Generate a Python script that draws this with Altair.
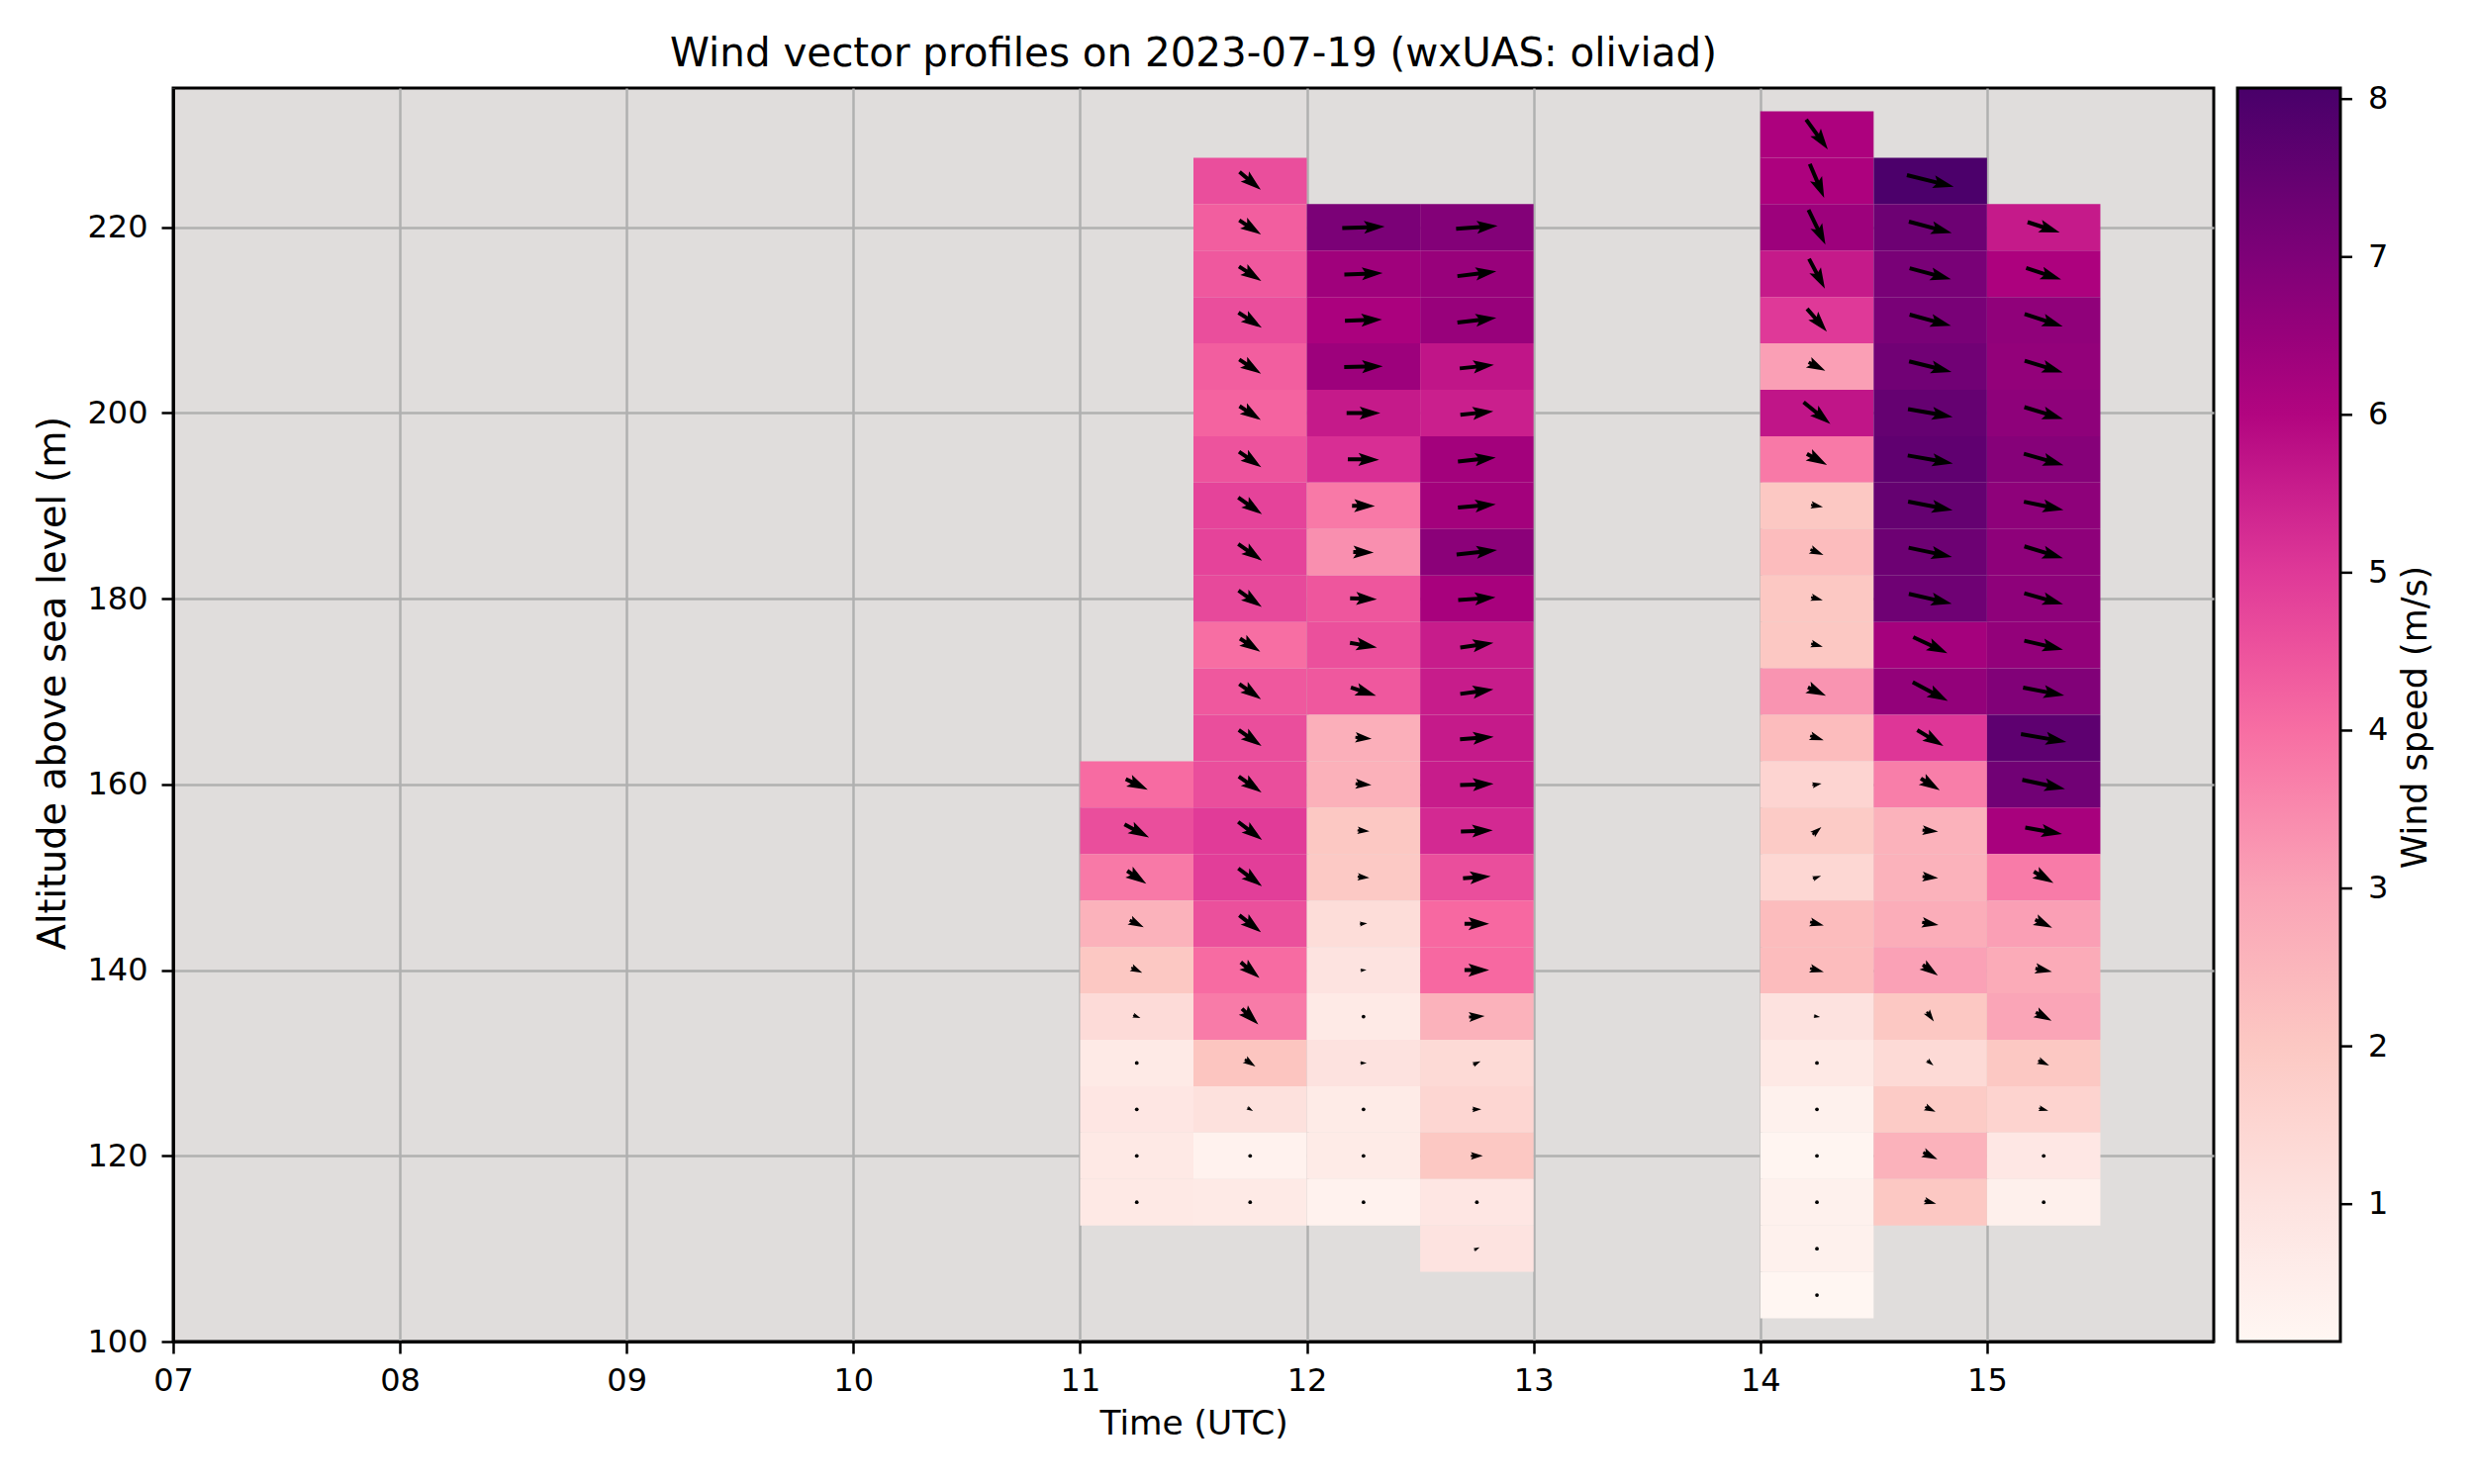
import altair as alt
import pandas as pd

# ---- data ----------------------------------------------------------------
# start hour (UTC) of each 30-min profile and altitude (m) of its top bin centre
profile_start = [11.0, 11.5, 12.0, 12.5, 14.0, 14.5, 15.0]
profile_top = [160, 225, 220, 220, 230, 225, 220]
bin_step = 5          # altitude bin (m)
profile_len = 0.5     # hours

# wind speed (m/s), listed from the top bin downwards
speed_1100 = [4.05, 4.6, 3.8, 2.6, 2.0, 1.3, 0.7, 0.85, 0.75, 0.75]
speed_1130 = [4.6, 4.3, 4.4, 4.6, 4.3, 4.2, 4.5, 4.8, 4.8, 4.7, 4.0, 4.4, 4.6, 4.6,
              4.95, 4.9, 4.55, 4.05, 3.75, 2.1, 1.1, 0.35, 0.7]
speed_1200 = [7.05, 6.35, 6.15, 6.4, 5.6, 5.2, 3.8, 3.4, 4.45, 4.55, 4.4, 2.7, 2.65,
              2.0, 1.95, 1.25, 1.0, 0.7, 1.05, 0.65, 0.65, 0.35]
speed_1230 = [6.9, 6.5, 6.5, 5.7, 5.5, 6.3, 6.3, 6.75, 6.2, 5.55, 5.55, 5.6, 5.55,
              5.3, 4.6, 4.1, 4.1, 2.6, 1.35, 1.5, 2.0, 0.85, 1.0]
speed_1400 = [6.1, 6.1, 6.4, 5.6, 5.0, 3.1, 5.7, 3.8, 2.0, 2.35, 2.0, 2.0, 3.3, 2.35,
              1.55, 1.9, 1.45, 2.35, 2.35, 1.05, 0.75, 0.4, 0.2, 0.4, 0.4, 0.17]
speed_1430 = [8.0, 7.35, 7.1, 7.1, 7.25, 7.5, 7.6, 7.5, 7.35, 7.3, 6.25, 6.6, 5.05,
              3.7, 2.6, 2.6, 2.75, 3.05, 2.0, 1.35, 1.9, 2.6, 2.0]
speed_1500 = [5.6, 6.1, 6.65, 6.6, 6.7, 6.85, 6.7, 6.7, 6.7, 6.6, 6.95, 7.65, 7.25,
              6.2, 3.75, 3.1, 2.8, 2.95, 2.0, 1.6, 0.8, 0.45]

# arrow heading on screen (degrees clockwise from pointing right), top bin downwards
heading_1100 = [26, 28, 34, 27, 25, 20, 0, 0, 0, 0]
heading_1130 = [40, 33, 33, 33, 33, 33, 35, 35, 35, 35, 33, 35, 35, 35, 37, 37, 38,
                40, 44, 34, 30, 0, 0]
heading_1200 = [-2, -2, -2, -1, 0, 1, 1, 2, 2, 10, 18, 5, 5, 5, 5, -5, -5, 0, 0, 0,
                0, 0]
heading_1230 = [-4, -7, -7, -6, -6, -6, -5, -6, -4, -8, -8, -4, -2, -2, -4, 0, 0, -4,
                -25, 0, 0, 0, -25]
heading_1400 = [54, 67, 64, 62, 49, 27, 39, 29, 10, 23, 15, 15, 25, 18, -10, -40,
                -20, 15, 15, 10, 0, 0, 0, 0, 0, 0]
heading_1430 = [14, 15, 15, 15, 14, 10, 10, 11, 12, 13, 25, 28, 31, 32, 5, 5, 10, 35,
                54, 40, 25, 25, 15]
heading_1500 = [18, 18, 18, 17, 17, 16, 12, 17, 16, 13, 11, 10, 12, 10, 30, 25, 12,
                28, 25, 15, 0, 0]

speeds = [speed_1100, speed_1130, speed_1200, speed_1230, speed_1400, speed_1430,
          speed_1500]
headings = [heading_1100, heading_1130, heading_1200, heading_1230, heading_1400,
            heading_1430, heading_1500]

x_ticks = [7, 8, 9, 10, 11, 12, 13, 14, 15]
y_ticks = [100, 120, 140, 160, 180, 200, 220]
cbar_ticks = [1, 2, 3, 4, 5, 6, 7, 8]
cbar_title = "Wind speed (m/s)"
cbar_min, cbar_max = 0.13, 8.07
# matplotlib "RdPu" colour stops
rdpu = ["#fff7f3", "#fde0dd", "#fcc5c0", "#fa9fb5", "#f768a1", "#dd3497",
        "#ae017e", "#7a0177", "#49006a"]

rows = []
for start, top, spd, hdg in zip(profile_start, profile_top, speeds, headings):
    for i, (s, h) in enumerate(zip(spd, hdg)):
        alt_c = top - i * bin_step
        rows.append(dict(t0=start, t1=start + profile_len, tc=start + profile_len / 2,
                         a0=alt_c - bin_step / 2, a1=alt_c + bin_step / 2, alt=alt_c,
                         speed=s, heading=h % 360))
df = pd.DataFrame(rows)

# ---- styling --------------------------------------------------------------
FONT = "DejaVu Sans"
W, H = 2062, 1267
CBAR_OFFSET, CBAR_WIDTH = 24, 104
PX_PER_MS = 6.1      # quiver arrow length per m/s (px)
HEAD_LEN = 21        # full-size arrow head length (px)

x_scale = alt.Scale(domain=[7, 16], nice=False, zero=False)
y_scale = alt.Scale(domain=[100, 235], nice=False, zero=False)

axis_common = dict(grid=True, gridColor="#b0b0b0", gridWidth=2.5, tickSize=12,
                   tickWidth=2.5, tickColor="black", domainColor="black",
                   domainWidth=3, labelFont=FONT, labelFontSize=32,
                   labelColor="black", titleFont=FONT, titleFontWeight="normal",
                   titleColor="black", labelFlush=False)

x_axis = alt.Axis(values=x_ticks, title="Time (UTC)", titleFontSize=34.4,
                  labelExpr="(datum.value < 10 ? '0' : '') + datum.value",
                  labelPadding=12, titlePadding=11, **axis_common)
y_axis = alt.Axis(values=y_ticks, title="Altitude above sea level (m)",
                  titleFontSize=38.2, labelPadding=14, titlePadding=14,
                  titleY=601, **axis_common)

stops = [cbar_min + k * (cbar_max - cbar_min) / (len(rdpu) - 1)
         for k in range(len(rdpu))]
color_scale = alt.Scale(domain=stops, range=rdpu, interpolate="rgb")

base = alt.Chart(df)

cells = base.mark_rect(strokeWidth=0).encode(
    x=alt.X("t0:Q", scale=x_scale, axis=x_axis),
    x2="t1:Q",
    y=alt.Y("a0:Q", scale=y_scale, axis=y_axis),
    y2="a1:Q",
    color=alt.Color("speed:Q", scale=color_scale, legend=alt.Legend(
        title=None, orient="right", offset=CBAR_OFFSET, direction="vertical",
        gradientLength=H, gradientThickness=CBAR_WIDTH, gradientStrokeColor="black",
        gradientStrokeWidth=3, values=cbar_ticks, format="d", labelFont=FONT,
        labelFontSize=32, labelColor="black", labelOffset=28, labelOverlap=False,
        padding=0)),
)


def r2(e):
    return f"round(({e}) * 100) / 100"


# quiver arrow outline (pointing right, centred on the bin), built from speed:
# length proportional to speed, head of fixed size (shrunk for short arrows)
arrows = base.transform_filter("datum.speed >= 0.95").transform_calculate(
    L=f"{PX_PER_MS} * datum.speed",
).transform_calculate(
    hs=f"min(datum.L, {HEAD_LEN})",
).transform_calculate(
    k=f"datum.hs / {HEAD_LEN}",
    x0="-datum.L / 2",
    xt="datum.L / 2",
    xb="datum.L / 2 - datum.hs",
    xn="datum.L / 2 - 0.86 * datum.hs",
).transform_calculate(
    sw="2.0 * datum.k",
    hw="6.6 * datum.k",
).transform_calculate(
    path=("'M' + " + r2("datum.x0") + " + ',' + " + r2("-datum.sw")
          + " + 'L' + " + r2("datum.xn") + " + ',' + " + r2("-datum.sw")
          + " + 'L' + " + r2("datum.xb") + " + ',' + " + r2("-datum.hw")
          + " + 'L' + " + r2("datum.xt") + " + ',0'"
          + " + 'L' + " + r2("datum.xb") + " + ',' + " + r2("datum.hw")
          + " + 'L' + " + r2("datum.xn") + " + ',' + " + r2("datum.sw")
          + " + 'L' + " + r2("datum.x0") + " + ',' + " + r2("datum.sw")
          + " + 'Z'"),
).mark_point(
    filled=True, color="black", opacity=1, strokeWidth=0, size=4
).encode(
    x=alt.X("tc:Q", scale=x_scale),
    y=alt.Y("alt:Q", scale=y_scale, axis=None),
    shape=alt.Shape("path:N", scale=None, legend=None),
    angle=alt.Angle("heading:Q", scale=None),
)

dots = base.transform_filter("datum.speed < 0.95").mark_circle(
    size=14, color="black", opacity=1
).encode(
    x=alt.X("tc:Q", scale=x_scale),
    y=alt.Y("alt:Q", scale=y_scale, axis=None),
)

# colour-bar tick marks on the right edge of the gradient
cbar_tick_marks = alt.Chart(pd.DataFrame({"v": cbar_ticks})).mark_rule(
    color="black", strokeWidth=2.5
).encode(
    x=alt.value(W + CBAR_OFFSET + CBAR_WIDTH),
    x2=alt.value(W + CBAR_OFFSET + CBAR_WIDTH + 12),
    y=alt.Y("v:Q", scale=alt.Scale(domain=[cbar_min, cbar_max], nice=False,
                                   zero=False), axis=None),
)

cbar_label = alt.Chart(pd.DataFrame({"t": [cbar_title]})).mark_text(
    font=FONT, fontSize=34.9, color="black", angle=270, align="center",
    baseline="middle"
).encode(x=alt.value(W + 205), y=alt.value(636), text="t:N")

chart = alt.layer(cells, arrows, dots, cbar_tick_marks, cbar_label).resolve_scale(
    y="independent"
).properties(
    width=W, height=H, background="white",
    title=alt.TitleParams("Wind vector profiles on 2023-07-19 (wxUAS: oliviad)",
                          font=FONT, fontSize=40.4, fontWeight="normal",
                          color="black", anchor="middle", offset=14),
    padding={"left": 167, "top": 81, "right": 250, "bottom": 136},
    autosize=alt.AutoSizeParams(type="none"),
).configure_view(
    fill="#e0dddc", stroke="black", strokeWidth=3
)

chart.save("out.html", embed_options={"renderer": "svg", "actions": False})
